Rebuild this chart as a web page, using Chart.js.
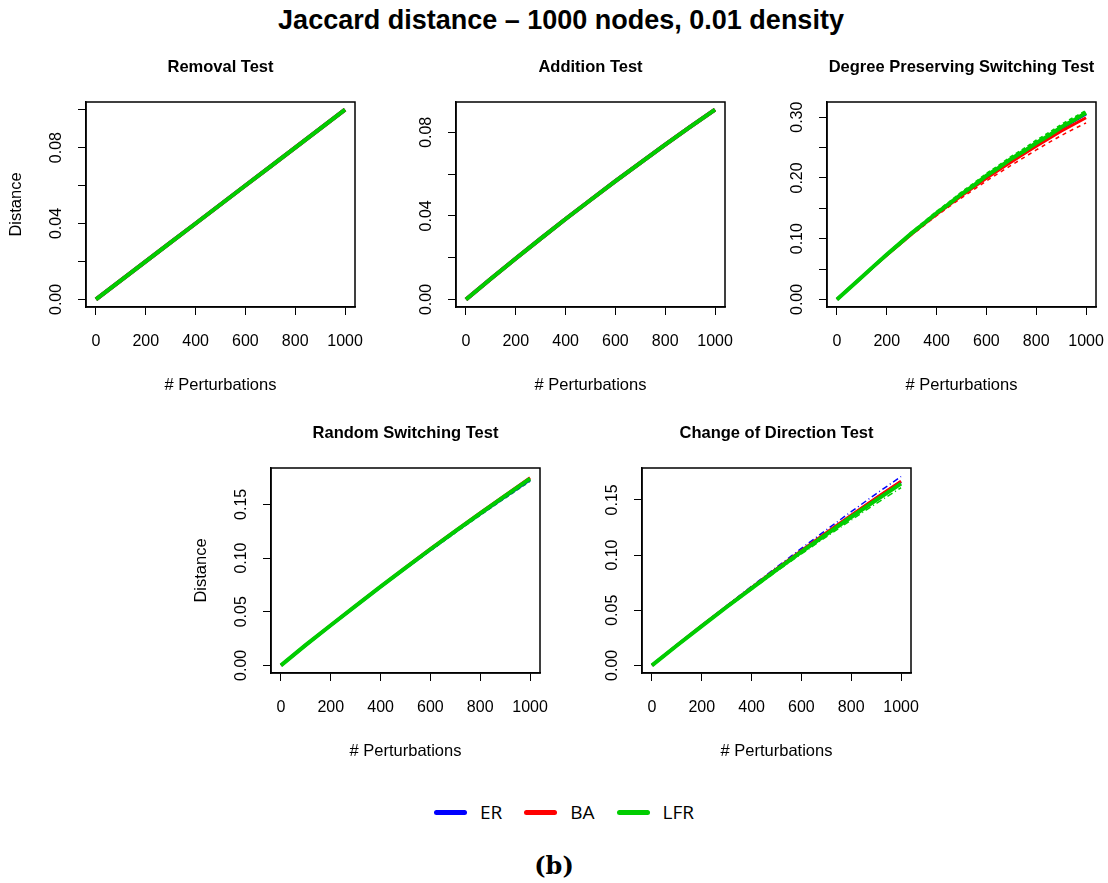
<!DOCTYPE html>
<html>
<head>
<meta charset="utf-8">
<script src="https://cdn.jsdelivr.net/npm/chart.js@4.4.1/dist/chart.umd.min.js"></script>
<style>
  body { margin: 0; background: #fff; width: 1108px; height: 883px; position: relative; overflow: hidden;
         font-family: "Liberation Sans", Arial, sans-serif; }
  canvas { position: absolute; }
  #mainTitle { position: absolute; left: 7px; width: 1108px; top: 5px; text-align: center;
               font-weight: bold; font-size: 27px; color: #000; }
  #legend { position: absolute; left: 10px; width: 1108px; top: 799px; display: flex; justify-content: center;
            align-items: center; font-family: "Open Sans", "DejaVu Sans", sans-serif; font-size: 19px; }
  .item { display: flex; align-items: center; margin: 0 11px; }
  .swatch { width: 33px; height: 5px; border-radius: 3px; margin-right: 13px; }
  #caption { position: absolute; left: 0; width: 1108px; top: 851px; text-align: center;
             font-family: "DejaVu Serif", "Liberation Serif", serif; font-weight: bold; font-size: 24px; }
</style>
</head>
<body>
<div id="mainTitle">Jaccard distance – 1000 nodes, 0.01 density</div>
<canvas id="p1" width="370" height="345"></canvas>
<canvas id="p2" width="370" height="345"></canvas>
<canvas id="p3" width="370" height="345"></canvas>
<canvas id="p4" width="370" height="345"></canvas>
<canvas id="p5" width="370" height="345"></canvas>
<div id="legend"></div>
<div id="caption">(b)</div>
<script>
// perturbation counts
const xs = [0, 100, 200, 300, 400, 500, 600, 700, 800, 900, 1000];
const xsFine = [0, 50, 100, 150, 200, 250, 300, 350, 400, 450, 500, 550, 600, 650, 700, 750, 800, 850, 900, 950, 1000];
const xTicks = [0, 200, 400, 600, 800, 1000];
const xTickLabels = ["0", "200", "400", "600", "800", "1000"];

const seriesNames = ["ER", "BA", "LFR"];
const BLUE = "#0000FF", RED = "#FF0000", GREEN = "#00CD00";

// Removal Test
const remER  = [0, 0.010, 0.020, 0.030, 0.040, 0.050, 0.060, 0.070, 0.080, 0.090, 0.100];
const remBA  = [0, 0.010, 0.020, 0.030, 0.040, 0.050, 0.060, 0.070, 0.080, 0.090, 0.100];
const remLFR = [0, 0.010, 0.020, 0.030, 0.040, 0.050, 0.060, 0.070, 0.080, 0.090, 0.100];

// Addition Test
const addER  = [0, 0.0099, 0.0196, 0.0291, 0.0385, 0.0476, 0.0566, 0.0654, 0.0741, 0.0826, 0.0909];
const addBA  = [0, 0.0099, 0.0196, 0.0291, 0.0385, 0.0476, 0.0566, 0.0654, 0.0741, 0.0826, 0.0909];
const addLFR = [0, 0.0099, 0.0196, 0.0291, 0.0385, 0.0476, 0.0566, 0.0654, 0.0741, 0.0826, 0.0909];

// Degree Preserving Switching Test (fine steps)
const dpsER    = [0, .0184, .0368, .0553, .0737, .0911, .1086, .1250, .1415, .1568, .1722, .1869, .2016, .2156, .2296, .2428, .2560, .2690, .2812, .2935, .3052];
const dpsBA    = [0, .0184, .0367, .0550, .0731, .0904, .1077, .1240, .1402, .1553, .1705, .1850, .1993, .2130, .2263, .2395, .2522, .2647, .2770, .2880, .2990];
const dpsLFR   = [0, .0185, .0370, .0556, .0741, .0914, .1092, .1253, .1423, .1572, .1735, .1878, .2036, .2168, .2316, .2438, .2575, .2696, .2834, .2948, .3072];
const dpsBALo  = [0, .0182, .0362, .0542, .0720, .0890, .1060, .1219, .1378, .1526, .1672, .1810, .1950, .2080, .2210, .2334, .2460, .2580, .2697, .2805, .2905];
const dpsLFRHi = [0, .0188, .0376, .0565, .0752, .0930, .1108, .1276, .1446, .1600, .1765, .1912, .2070, .2205, .2352, .2478, .2618, .2740, .2875, .2992, .3105];

// Random Switching Test
const rsER  = [0, .0190, .0373, .0553, .0731, .0906, .1078, .1246, .1411, .1572, .1730];
const rsBA  = [0, .0191, .0375, .0557, .0736, .0912, .1086, .1255, .1422, .1585, .1748];
const rsLFR = [0, .0191, .0374, .0555, .0734, .0909, .1082, .1251, .1417, .1579, .1740];
const rsLFRLo = [0, .0190, .0372, .0551, .0728, .0901, .1071, .1238, .1401, .1561, .1718];

// Change of Direction Test
const cdER  = [0, .0181, .0358, .0532, .0703, .0871, .1036, .1198, .1357, .1513, .1665];
const cdBA  = [0, .0181, .0359, .0533, .0705, .0874, .1040, .1203, .1362, .1518, .1670];
const cdLFR = [0, .0180, .0356, .0529, .0698, .0865, .1028, .1188, .1345, .1498, .1648];
const cdERHi  = [0, .0183, .0363, .0541, .0717, .0890, .1060, .1228, .1393, .1555, .1712];
const cdLFRLo = [0, .0178, .0351, .0521, .0687, .0851, .1010, .1165, .1318, .1467, .1610];

const FONT = "'Liberation Sans', Arial, sans-serif";
const LEFT_M = 86, TOP_M = 50, BOTTOM_M = 90;

const boxPlugin = {
    id: "box",
    afterDraw: chart => {
        const a = chart.chartArea, ctx = chart.ctx;
        ctx.save();
        ctx.strokeStyle = "#000";
        ctx.lineWidth = 1.5;
        ctx.strokeRect(a.left, a.top, a.right - a.left, a.bottom - a.top);
        ctx.restore();
    }
};

const line = (xv, yv, color, width, dash) => ({
    data: xv.map((x, i) => ({x: x, y: yv[i]})),
    borderColor: color,
    borderWidth: width,
    borderDash: dash || [],
    pointRadius: 0,
    tension: 0,
    fill: false
});

// fixed axis sizes, no label overflow padding, so every plot box is the same
const fixSize = (w, h) => s => {
    if (w) s.width = w;
    if (h) s.height = h;
    s.paddingLeft = 0; s.paddingRight = 0; s.paddingTop = 0; s.paddingBottom = 0;
};

const makePanel = (id, left, top, title, yLabel, yMin, yMax, yTicks, yTickLabels, datasets) => {
    const canvas = document.getElementById(id);
    canvas.style.left = (left - LEFT_M) + "px";
    canvas.style.top = (top - TOP_M) + "px";
    new Chart(canvas.getContext("2d"), {
        type: "line",
        data: {datasets: datasets},
        options: {
            responsive: false,
            animation: false,
            events: [],
            layout: {padding: {left: 0, right: 15, top: 0, bottom: 0}},
            plugins: {legend: {display: false}, tooltip: {enabled: false}},
            scales: {
                x: {
                    type: "linear", position: "bottom", min: -40, max: 1040,
                    afterBuildTicks: s => { s.ticks = xTicks.map(v => ({value: v})); },
                    afterFit: fixSize(0, BOTTOM_M),
                    ticks: {autoSkip: false, maxRotation: 0, minRotation: 0, padding: 17, color: "#000",
                            font: {size: 16, family: FONT}, callback: (v, i) => xTickLabels[i]},
                    grid: {drawOnChartArea: false, drawTicks: true, tickLength: 8, color: "#000", lineWidth: 1},
                    border: {display: true, color: "#000", width: 1.5},
                    title: {display: true, text: "# Perturbations", color: "#000",
                            font: {size: 16.5, family: FONT}, padding: {top: 0, bottom: 2}}
                },
                top: {
                    type: "linear", position: "top", display: true,
                    afterFit: fixSize(0, TOP_M),
                    ticks: {display: false},
                    grid: {display: false},
                    border: {display: false},
                    title: {display: true, text: title, color: "#000",
                            font: {size: 16.5, weight: "bold", family: FONT}, padding: {top: 6, bottom: 0}}
                },
                y: {
                    type: "linear", position: "left", min: yMin, max: yMax,
                    afterBuildTicks: s => { s.ticks = yTicks.map(v => ({value: v})); },
                    afterFit: fixSize(LEFT_M, 0),
                    ticks: {autoSkip: false, minRotation: 90, maxRotation: 90, crossAlign: "center", padding: 6,
                            color: "#000", font: {size: 16, family: FONT}, callback: (v, i) => yTickLabels[i]},
                    grid: {drawOnChartArea: false, drawTicks: true, tickLength: 8, color: "#000", lineWidth: 1},
                    border: {display: true, color: "#000", width: 1.5},
                    title: {display: !!yLabel, text: yLabel || "", color: "#000",
                            font: {size: 16.5, family: FONT}, padding: {top: 7, bottom: 0}}
                }
            }
        },
        plugins: [boxPlugin]
    });
};

// dataset index 0 is painted last (on top), so green first
makePanel("p1", 86, 102, "Removal Test", "Distance", -0.004, 0.104,
    [0, 0.02, 0.04, 0.06, 0.08, 0.10], ["0.00", "", "0.04", "", "0.08", ""],
    [line(xs, remLFR, GREEN, 4), line(xs, remBA, RED, 4), line(xs, remER, BLUE, 4)]);

makePanel("p2", 456, 102, "Addition Test", null, -0.0036, 0.0945,
    [0, 0.02, 0.04, 0.06, 0.08], ["0.00", "", "0.04", "", "0.08"],
    [line(xs, addLFR, GREEN, 4), line(xs, addBA, RED, 4), line(xs, addER, BLUE, 4)]);

makePanel("p3", 827, 102, "Degree Preserving Switching Test", null, -0.0125, 0.325,
    [0, 0.05, 0.10, 0.15, 0.20, 0.25, 0.30], ["0.00", "", "0.10", "", "0.20", "", "0.30"],
    [line(xsFine, dpsLFR, GREEN, 4), line(xsFine, dpsBA, RED, 3), line(xsFine, dpsER, BLUE, 3),
     line(xsFine, dpsLFRHi, GREEN, 2, [4, 3]), line(xsFine, dpsBALo, RED, 1.5, [4, 4])]);

makePanel("p4", 271, 468, "Random Switching Test", "Distance", -0.0071, 0.1839,
    [0, 0.05, 0.10, 0.15], ["0.00", "0.05", "0.10", "0.15"],
    [line(xs, rsLFR, GREEN, 4), line(xs, rsBA, RED, 3), line(xs, rsER, BLUE, 3),
     line(xs, rsLFRLo, GREEN, 2, [4, 3])]);

makePanel("p5", 642, 468, "Change of Direction Test", null, -0.0069, 0.1789,
    [0, 0.05, 0.10, 0.15], ["0.00", "0.05", "0.10", "0.15"],
    [line(xs, cdLFR, GREEN, 4), line(xs, cdBA, RED, 3), line(xs, cdER, BLUE, 3),
     line(xs, cdERHi, BLUE, 1.5, [1, 3, 6, 3]), line(xs, cdLFRLo, GREEN, 1.5, [1, 3, 6, 3])]);

// legend
const legend = document.getElementById("legend");
[BLUE, RED, GREEN].forEach((c, i) => {
    const item = document.createElement("div");
    item.className = "item";
    const sw = document.createElement("div");
    sw.className = "swatch";
    sw.style.background = c;
    const label = document.createElement("span");
    label.textContent = seriesNames[i];
    item.appendChild(sw);
    item.appendChild(label);
    legend.appendChild(item);
});
</script>
</body>
</html>
